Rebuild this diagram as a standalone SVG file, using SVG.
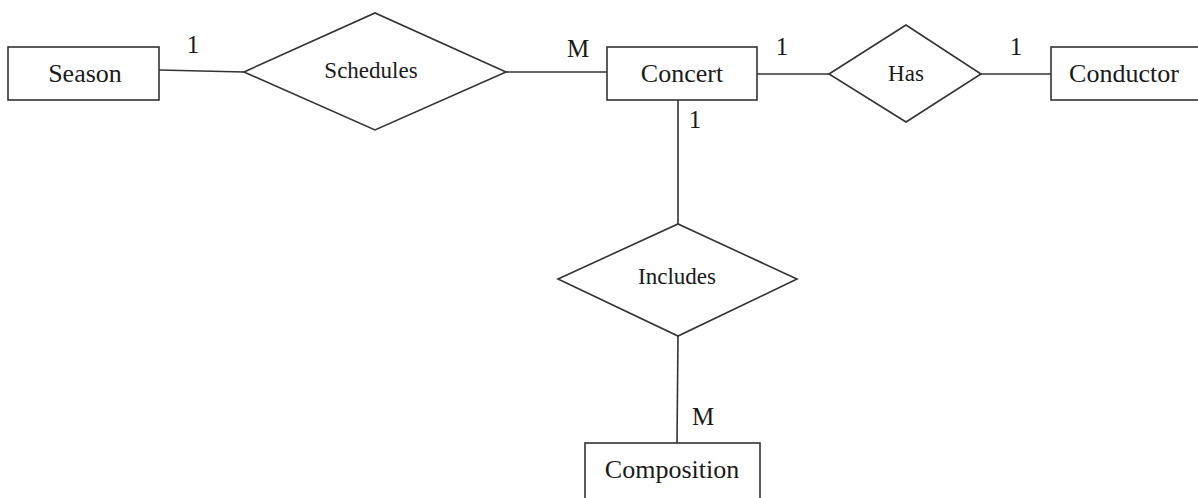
<svg xmlns="http://www.w3.org/2000/svg" width="1198" height="498" viewBox="0 0 1198 498" font-family="'Liberation Serif', 'Times New Roman', 'DejaVu Serif', serif">
<style>
.ent{fill:#fff;stroke:#333;stroke-width:1.6}
.rel{fill:#fff;stroke:#333;stroke-width:1.6}
.ln{stroke:#333;stroke-width:1.6;fill:none}
text{font-family:'Liberation Serif', 'Times New Roman', 'DejaVu Serif', serif;fill:#1a1a1a;text-anchor:middle}
.et{font-size:26px}
.rt{font-size:23px}
.ct{font-size:25px}
</style>
<rect width="1198" height="498" fill="#fff"/>
<g id="connectors">
<line class="ln" x1="159" y1="70" x2="244" y2="72"/>
<line class="ln" x1="506" y1="72" x2="607" y2="72"/>
<line class="ln" x1="757" y1="74" x2="829" y2="74"/>
<line class="ln" x1="981" y1="74" x2="1051" y2="74"/>
<line class="ln" x1="678" y1="100" x2="678" y2="224"/>
<line class="ln" x1="678" y1="336" x2="677" y2="443"/>
<text class="ct" x="193" y="53">1</text>
<text class="ct" x="578" y="57">M</text>
<text class="ct" x="782" y="55">1</text>
<text class="ct" x="1016" y="55">1</text>
<text class="ct" x="695" y="128">1</text>
<text class="ct" x="703" y="425">M</text>
</g>
<g id="season">
<rect class="ent" x="8" y="47" width="151" height="53"/>
<text class="et" x="85" y="82">Season</text>
</g>
<g id="schedules">
<polygon class="rel" points="244,72 375,13 506,72 375,130"/>
<text class="rt" x="371" y="78">Schedules</text>
</g>
<g id="concert">
<rect class="ent" x="607" y="47" width="150" height="53"/>
<text class="et" x="682" y="82">Concert</text>
</g>
<g id="has">
<polygon class="rel" points="829,74 906,25 981,74 906,122"/>
<text class="rt" x="906" y="81">Has</text>
</g>
<g id="conductor">
<rect class="ent" x="1051" y="47" width="152" height="53"/>
<text class="et" x="1124" y="82">Conductor</text>
</g>
<g id="includes">
<polygon class="rel" points="558,279 678,224 797,279 678,336"/>
<text class="rt" x="677" y="284">Includes</text>
</g>
<g id="composition">
<rect class="ent" x="585" y="443" width="175" height="56"/>
<text class="et" x="672" y="478">Composition</text>
</g>
</svg>
